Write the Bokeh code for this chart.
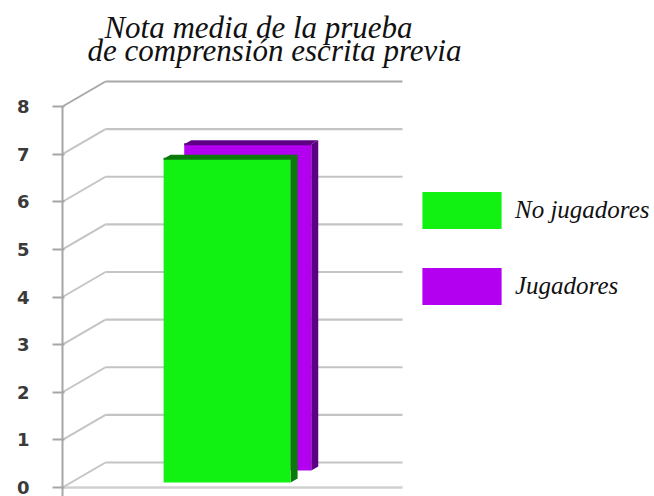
from bokeh.plotting import figure
from bokeh.models import Range1d, FixedTicker, Legend, LegendItem, Label
from bokeh.embed import file_html
from bokeh.resources import INLINE

# ---- data ----
title_lines = ["Nota media de la prueba", "de comprensión escrita previa"]
series = ["No jugadores", "Jugadores"]
values = [6.8, 6.85]
y_ticks = [0, 1, 2, 3, 4, 5, 6, 7, 8]
front_colors = ["#12F212", "#B300F0"]
side_colors = ["#0B7A0B", "#5C0084"]

# ---- layout / style ----
W, H = 654, 496
LEFT = 62
PX = 47.625                      # pixels per value unit
ZERO_PX = 487                    # pixel row of value 0
Y_START = -(H - ZERO_PX) / PX
Y_END = Y_START + H / PX
X_END = W - LEFT                 # x measured in frame pixels
DX = 43.0                        # depth of the 3D box (x)
DY = 25.0 / PX                   # depth of the 3D box (y)
WALL_END = 340.0
BAR_LEFT = 92.5
BAR_W = 127.0
DEPTHS = [0.2, 0.68]             # where each series sits in depth
SDX = 7.0
SDY = 4.0 / PX
GRID = "#c4c4c4"

p = figure(width=W, height=H, output_backend="svg", toolbar_location=None,
           x_range=Range1d(0, X_END), y_range=Range1d(Y_START, Y_END),
           x_axis_location=None, min_border_left=LEFT, min_border_right=0,
           min_border_top=0, min_border_bottom=0)
p.grid.visible = False
p.outline_line_color = None
p.background_fill_color = "white"
p.border_fill_color = "white"

# left wall diagonals + back wall lines
for v in y_ticks:
    col = "#a8a8a8" if v == y_ticks[-1] else GRID
    p.segment(x0=0, y0=v, x1=DX, y1=v + DY, line_color=col, line_width=2)
    p.segment(x0=DX, y0=v + DY, x1=WALL_END, y1=v + DY, line_color=col, line_width=2.2)
# floor front edge
p.segment(x0=0, y0=0, x1=WALL_END, y1=0, line_color="#d0d0d0", line_width=2.5)

# bars (back series first)
fronts = {}
for i in reversed(range(len(series))):
    d = DEPTHS[i]
    xl = BAR_LEFT + d * DX
    xr = xl + BAR_W
    base = d * DY
    top = base + values[i]
    p.patch([xr, xr + SDX, xr + SDX, xr], [base, base + SDY, top + SDY, top],
            fill_color=side_colors[i], line_color=None)
    p.patch([xl, xl + SDX, xr + SDX, xr], [top, top + SDY, top + SDY, top],
            fill_color=side_colors[i], line_color=None)
    fronts[i] = p.quad(left=[xl], right=[xr], bottom=[base], top=[top],
                       fill_color=front_colors[i], line_color=None)
    p.segment(x0=xl, y0=top, x1=xr, y1=top, line_color=side_colors[i], line_width=2)

# y axis
ax = p.yaxis[0]
ax.ticker = FixedTicker(ticks=y_ticks)
ax.bounds = (-0.2, 8)
ax.axis_line_color = "#a6a6a6"
ax.axis_line_width = 2
ax.major_tick_line_color = "#a6a6a6"
ax.major_tick_line_width = 2
ax.major_tick_out = 10
ax.major_tick_in = 2
ax.minor_tick_line_color = None
ax.major_label_standoff = 23
ax.major_label_text_font = "DejaVu Sans"
ax.major_label_text_font_style = "bold"
ax.major_label_text_font_size = "18px"
ax.major_label_text_color = "#3a3a3a"

# legend
legend = Legend(items=[LegendItem(label=series[0], renderers=[fronts[0]]),
                       LegendItem(label=series[1], renderers=[fronts[1]])],
                location=(350, 187), glyph_width=99, glyph_height=46,
                label_height=46, spacing=30, label_standoff=4, padding=0, margin=0,
                border_line_color=None, background_fill_alpha=0,
                label_text_font="Liberation Serif", label_text_font_style="italic",
                label_text_font_size="25px", label_text_color="#111111")
p.add_layout(legend)

# title
p.add_layout(Label(x=196, y=(ZERO_PX - 27) / PX, text=title_lines[0], text_align="center",
                   text_baseline="alphabetic", text_font="Liberation Serif",
                   text_font_style="italic", text_font_size="31px", text_color="#111111"))
p.add_layout(Label(x=212, y=(ZERO_PX - 50) / PX, text=title_lines[1], text_align="center",
                   text_baseline="alphabetic", text_font="Liberation Serif",
                   text_font_style="italic", text_font_size="31px", text_color="#111111"))

open("out.html", "w").write(file_html(p, INLINE))
